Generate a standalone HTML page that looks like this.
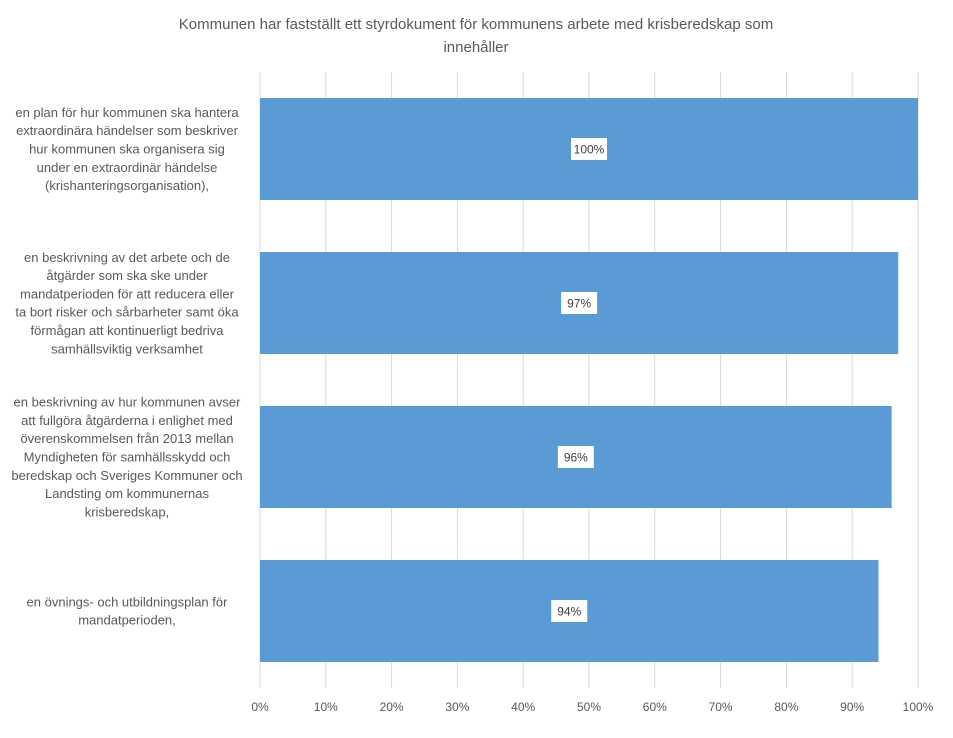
<!DOCTYPE html>
<html><head><meta charset="utf-8"><style>
body{margin:0;background:#fff;font-family:"Liberation Sans",Arial,sans-serif;}
svg text{font-family:"Liberation Sans",Arial,sans-serif;}
</style></head><body>
<svg id="chart" width="953" height="733" xmlns="http://www.w3.org/2000/svg">
<rect width="953" height="733" fill="#fff"/>
<text x="476" y="29" text-anchor="middle" font-size="15" fill="#595959">Kommunen  har fastställt ett styrdokument  för kommunens  arbete med krisberedskap  som</text>
<text x="476" y="52" text-anchor="middle" font-size="15" fill="#595959">innehåller</text>
<g id="grid"></g><g id="bars"></g><g id="labels"></g><g id="cats"></g>
</svg>
<script>
const categories=[
["en plan för hur kommunen ska hantera","extraordinära händelser som beskriver","hur kommunen ska organisera sig","under en extraordinär händelse","(krishanteringsorganisation),"],
["en beskrivning av det arbete och de","åtgärder som ska ske under","mandatperioden för att reducera eller","ta bort risker och sårbarheter samt öka","förmågan att kontinuerligt bedriva","samhällsviktig verksamhet"],
["en beskrivning av hur kommunen avser","att fullgöra åtgärderna i enlighet med","överenskommelsen från 2013 mellan","Myndigheten för samhällsskydd och","beredskap och Sveriges Kommuner och","Landsting om kommunernas","krisberedskap,"],
["en övnings- och utbildningsplan för","mandatperioden,"]
];
const values=[100,97,96,94];
const tickValues=[0,10,20,30,40,50,60,70,80,90,100];
const NS="http://www.w3.org/2000/svg";
const x0=260,x1=918,yTop=72,yBot=688;
const band=(yBot-yTop)/values.length;
const xs=v=>x0+(x1-x0)*v/100;
const yc=i=>yTop+band*(i+0.5);
function mk(t,a,p){const e=document.createElementNS(NS,t);for(const k in a)e.setAttribute(k,a[k]);p.appendChild(e);return e;}
const g=document.getElementById('grid'),b=document.getElementById('bars'),l=document.getElementById('labels'),c=document.getElementById('cats');
tickValues.forEach(t=>{
 const ln=mk('line',{x1:xs(t),x2:xs(t),y1:yTop,y2:yBot,stroke:'#d9d9d9','stroke-width':1},g);
 
 
 const tx=mk('text',{x:xs(t),y:711,'text-anchor':'middle','font-size':12,fill:'#595959'},g);
 tx.textContent=t+'%';
 
 
});
values.forEach((v,i)=>{
 const h=102;
 const r=mk('rect',{x:x0,y:yc(i)-h/2,width:xs(v)-x0,height:h,fill:'#5b9bd5'},b);
 
 
 const cx=(x0+xs(v))/2;
 const bg=mk('rect',{x:cx-18,y:yc(i)-11,width:36,height:22,fill:'#fff'},l);
 
 
 const t=mk('text',{x:cx,y:yc(i)+4.5,'text-anchor':'middle','font-size':12,fill:'#404040'},l);
 t.textContent=v+'%';
 
 
 const lines=categories[i];const lh=18.3;
 const start=yc(i)-(lines.length-1)*lh/2+4.5;
 const ct=mk('text',{'text-anchor':'middle','font-size':13,fill:'#595959'},c);
 
 
 lines.forEach((s,j)=>{const ts=mk('tspan',{x:127,y:start+j*lh},ct);ts.textContent=s;});
});
</script>
</body></html>
